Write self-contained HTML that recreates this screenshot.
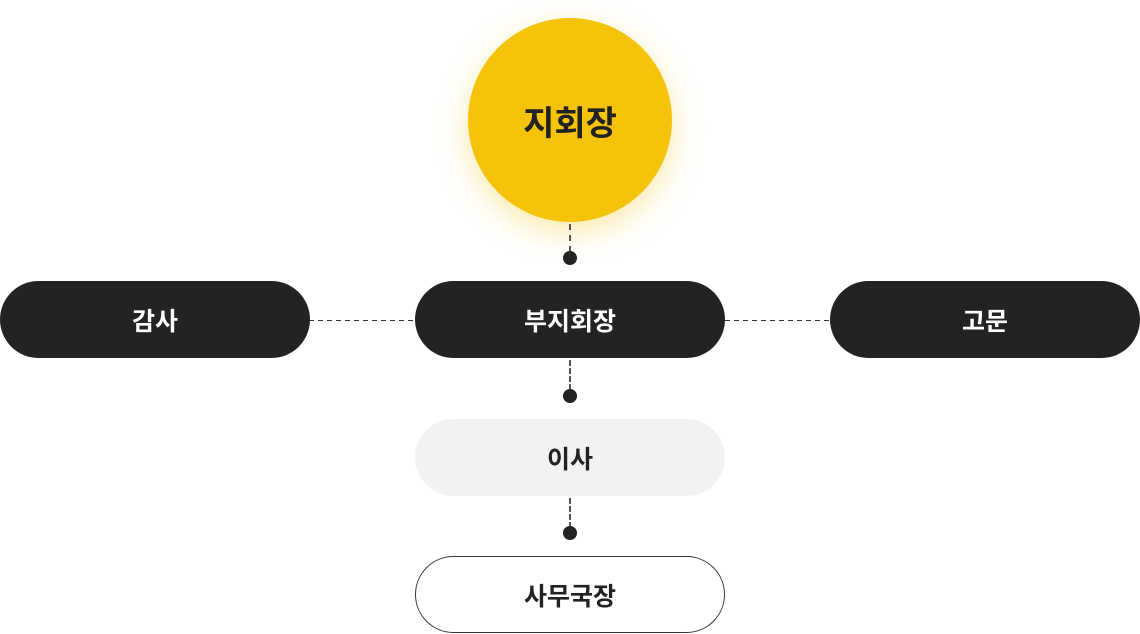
<!DOCTYPE html>
<html><head><meta charset="utf-8"><style>
body{margin:0;width:1140px;height:634px;background:#fff;position:relative;overflow:hidden;font-family:"Liberation Sans","Noto Sans CJK KR",sans-serif;}
.p{position:absolute;width:310px;height:77px;border-radius:39px;display:flex;align-items:center;justify-content:center;font-size:25px;font-weight:700;box-sizing:border-box;}
.d{background:#242322;color:#fff;}
.c{position:absolute;left:468px;top:18px;width:204px;height:204px;border-radius:50%;background:#F6C30B;box-shadow:0 10px 30px rgba(246,195,11,0.35);display:flex;align-items:center;justify-content:center;font-size:34px;font-weight:700;color:#222;}
.v{position:absolute;left:569px;width:0;border-left:2px dashed #555;}
.h{position:absolute;top:320px;height:1px;background:repeating-linear-gradient(90deg,#333 0 5px,transparent 5px 9px);}
.dot{position:absolute;left:563px;width:14px;height:14px;border-radius:50%;background:#242322;}
</style></head><body>
<div class="c">지회장</div>
<div class="v" style="top:224px;height:28px"></div>
<div class="dot" style="top:251px"></div>
<div class="h" style="left:309px;width:106px"></div>
<div class="h" style="left:725px;width:105px"></div>
<div class="p d" style="left:0;top:281px">감사</div>
<div class="p d" style="left:415px;top:281px">부지회장</div>
<div class="p d" style="left:830px;top:281px">고문</div>
<div class="v" style="top:360px;height:30px"></div>
<div class="dot" style="top:389px"></div>
<div class="p" style="left:415px;top:419px;background:#f2f2f2;color:#222">이사</div>
<div class="v" style="top:498px;height:30px"></div>
<div class="dot" style="top:526px"></div>
<div class="p" style="left:415px;top:556px;background:#fff;border:1px solid #333;color:#222">사무국장</div>
</body></html>
